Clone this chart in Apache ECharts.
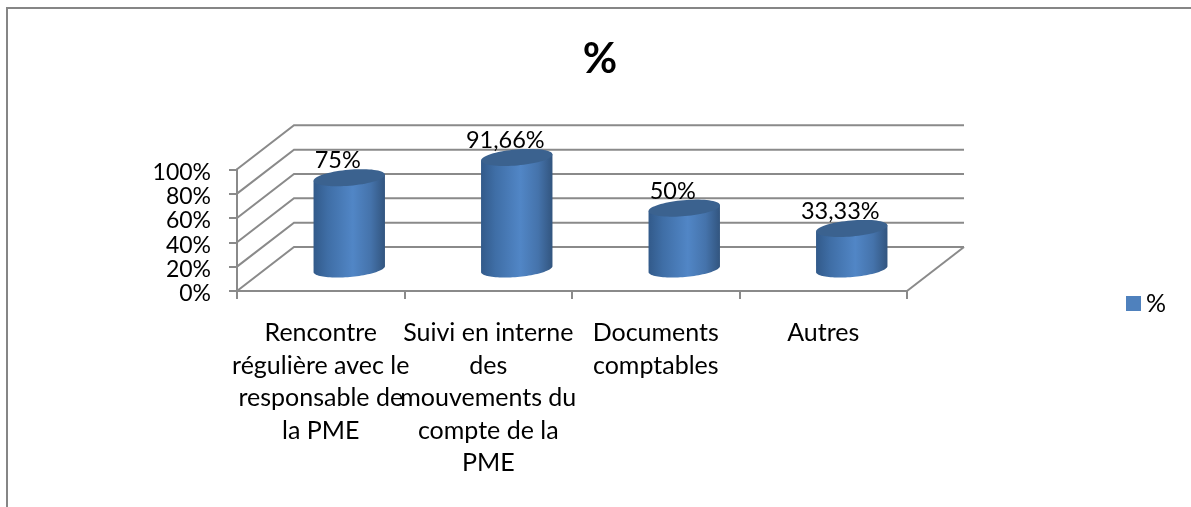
<!DOCTYPE html>
<html>
<head>
<meta charset="utf-8">
<style>html,body{margin:0;padding:0;background:#fff}#c{width:1191px;height:507px}</style>
<script src="https://cdn.jsdelivr.net/npm/echarts@6/dist/echarts.min.js"></script>
</head>
<body>
<div id="c"></div>
<script>
const categories = [
  "Rencontre\nrégulière avec le\nresponsable de\nla PME",
  "Suivi en interne\ndes\nmouvements du\ncompte de la\nPME",
  "Documents\ncomptables",
  "Autres"
];
const values = [75, 91.66, 50, 33.33];
const yTicks = [0, 20, 40, 60, 80, 100];
const seriesName = "%";
const titleText = "%";

const FONT = "Lato, Carlito, sans-serif";
const GREY = "#8a8a8a";
const DEPTH_X = 57, DEPTH_Y = -44;
const RX_RATIO = 0.214, RY = 8, TILT = -5 * Math.PI / 180;

function ellipsePoint(cx, cy, rx, ry, t) {
  const ex = rx * Math.cos(t), ey = ry * Math.sin(t);
  return [cx + ex * Math.cos(TILT) - ey * Math.sin(TILT),
          cy + ex * Math.sin(TILT) + ey * Math.cos(TILT)];
}
function arc(cx, cy, rx, ry, from, to, n) {
  const pts = [];
  for (let k = 0; k <= n; k++) pts.push(ellipsePoint(cx, cy, rx, ry, from + (to - from) * k / n));
  return pts;
}
function fmt(v) { return String(v).replace(".", ",") + "%"; }

function renderWalls(params, api) {
  const cs = params.coordSys;
  const p = api.coord([0, api.value(1)]);
  const left = cs.x, right = cs.x + cs.width, y = p[1];
  const children = [{
    type: "polyline",
    shape: { points: [[left, y], [left + DEPTH_X, y + DEPTH_Y], [right + DEPTH_X, y + DEPTH_Y]] },
    style: { stroke: GREY, lineWidth: 2, fill: null }
  }];
  if (api.value(1) === 0) {
    children.push({
      type: "line",
      shape: { x1: right, y1: y, x2: right + DEPTH_X, y2: y + DEPTH_Y },
      style: { stroke: GREY, lineWidth: 2 }
    });
  }
  return { type: "group", silent: true, children };
}

function renderCylinder(params, api) {
  const i = api.value(0), v = api.value(1);
  const base = api.coord([i, 0]), top = api.coord([i, v]);
  const rx = api.size([1, 0])[0] * RX_RATIO;
  const cx = base[0] + DEPTH_X / 2;
  const yb = base[1] + DEPTH_Y / 2, yt = top[1] + DEPTH_Y / 2;
  const bodyPts = [ellipsePoint(cx, yt, rx, RY, Math.PI)]
    .concat(arc(cx, yb, rx, RY, Math.PI, 0, 48))
    .concat([ellipsePoint(cx, yt, rx, RY, 0)]);
  return {
    type: "group",
    children: [
      {
        type: "polygon",
        shape: { points: bodyPts },
        style: {
          fill: new echarts.graphic.LinearGradient(0, 0, 1, 0, [
            { offset: 0, color: "#325a8a" },
            { offset: 0.2, color: "#3f6ea6" },
            { offset: 0.55, color: "#5186c6" },
            { offset: 0.8, color: "#4573ab" },
            { offset: 1, color: "#32557f" }
          ])
        }
      },
      {
        type: "polygon",
        shape: { points: arc(cx, yt, rx, RY, 0, Math.PI * 2, 72) },
        style: { fill: "#3b628f" }
      },
      {
        type: "text",
        x: cx - 11.5, y: yt - 17,
        style: {
          text: fmt(v), font: "23.5px " + FONT, fill: "#000",
          align: "center", verticalAlign: "middle"
        }
      }
    ]
  };
}

const chart = echarts.init(document.getElementById("c"), null, { renderer: "canvas" });
chart.setOption({
  animation: false,
  backgroundColor: "#fff",
  title: {
    text: titleText, left: 595, top: 33, textAlign: "center",
    textStyle: { fontFamily: FONT, fontWeight: "bold", fontSize: 42, color: "#000" }
  },
  legend: {
    data: [{ name: seriesName, icon: "rect", itemStyle: { color: "#4f81bd" } }],
    left: 1126, top: 291, itemWidth: 15, itemHeight: 15, itemGap: 6, padding: 0,
    textStyle: { fontFamily: FONT, fontSize: 25, color: "#000" }
  },
  grid: { left: 237, right: 284, top: 169.3, bottom: 216 },
  xAxis: {
    type: "category", data: categories,
    axisLine: { lineStyle: { color: GREY, width: 2 } },
    axisTick: { show: true, length: 8, alignWithLabel: false, lineStyle: { color: GREY, width: 2 } },
    axisLabel: { interval: 0, hideOverlap: false, margin: 26, fontFamily: FONT, fontSize: 25, color: "#000", lineHeight: 32.5, align: "center" }
  },
  yAxis: {
    type: "value", min: 0, max: 100, interval: yTicks[1] - yTicks[0],
    axisLine: { show: true, lineStyle: { color: GREY, width: 2 } },
    axisTick: { show: true, length: 8, lineStyle: { color: GREY, width: 2 } },
    splitLine: { show: false },
    axisLabel: { margin: 26, verticalAlign: "top", lineHeight: 6, fontFamily: FONT, fontSize: 23, color: "#000", formatter: "{value}%" }
  },
  graphic: [
    { type: "polyline", silent: true, z: -1,
      shape: { points: [[7, 507], [7, 8], [1191, 8]] },
      style: { stroke: "#868686", lineWidth: 2, fill: null } }
  ],
  series: [
    { name: "parois", type: "custom", renderItem: renderWalls, silent: true, z: 1,
      encode: { x: 0, y: 1 }, data: yTicks.map(t => [0, t]) },
    { name: seriesName, type: "custom", renderItem: renderCylinder, z: 3,
      itemStyle: { color: "#4f81bd" },
      encode: { x: 0, y: 1 }, data: values.map((v, i) => [i, v]) }
  ]
});
</script>
</body>
</html>
